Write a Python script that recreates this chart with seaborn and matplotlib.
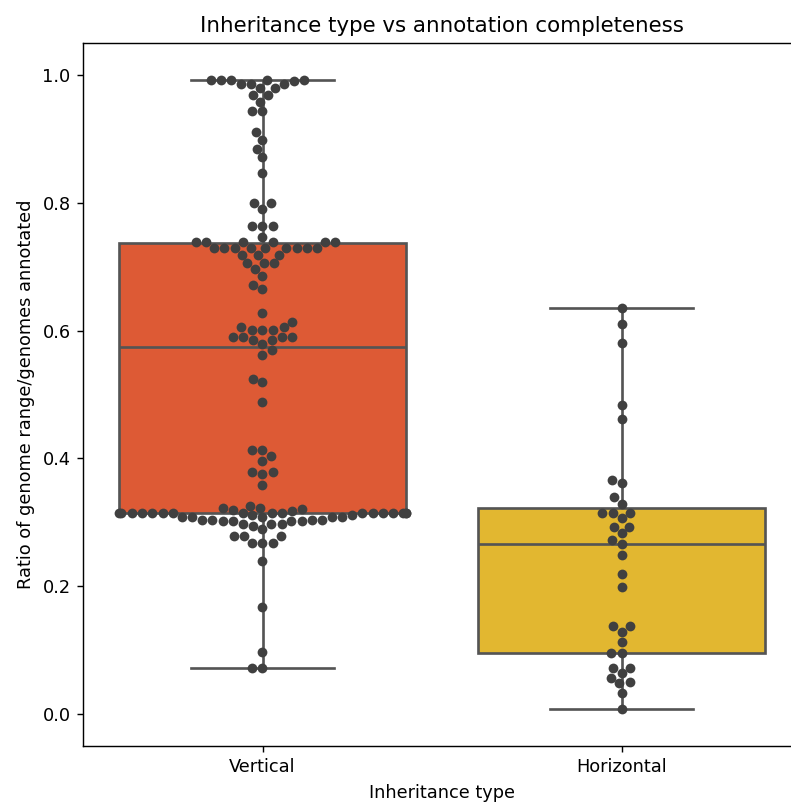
import matplotlib
matplotlib.use("Agg")
import numpy as np
import pandas as pd
import matplotlib.pyplot as plt
import seaborn as sns


# Data
categories = ["Vertical", "Horizontal"]

vertical_ratio = [
    0.992, 0.992, 0.992, 0.992, 0.992, 0.990, 0.986, 0.986, 0.986, 0.980,
    0.980, 0.969, 0.969, 0.958, 0.943, 0.943, 0.911, 0.899, 0.884, 0.871,
    0.847, 0.799, 0.799, 0.791, 0.764, 0.764, 0.764, 0.747, 0.739, 0.739,
    0.739, 0.739, 0.739, 0.739,
    0.729, 0.729, 0.729, 0.729, 0.729, 0.729, 0.729, 0.729, 0.729,
    0.718, 0.718, 0.718, 0.705, 0.705, 0.705, 0.696, 0.685, 0.671, 0.665,
    0.627, 0.614, 0.605, 0.605, 0.601, 0.601, 0.601, 0.590, 0.590, 0.590,
    0.590, 0.585, 0.585, 0.579,
    0.569, 0.562, 0.524, 0.520, 0.489, 0.413, 0.413, 0.404, 0.396, 0.379,
    0.379, 0.376, 0.359,
    0.326, 0.323, 0.323, 0.321, 0.320, 0.318,
    0.315, 0.315, 0.315, 0.315, 0.315, 0.315, 0.315, 0.315, 0.315, 0.315,
    0.315, 0.315, 0.315, 0.315, 0.315, 0.315, 0.315,
    0.311, 0.311, 0.308, 0.308, 0.308, 0.308, 0.308,
    0.304, 0.304, 0.304, 0.304, 0.3025, 0.3025, 0.3025, 0.3025,
    0.298, 0.298, 0.298, 0.294, 0.290, 0.278, 0.278, 0.278, 0.268, 0.268,
    0.268, 0.240, 0.168, 0.097, 0.0715, 0.0715,
]

horizontal_ratio = [
    0.635, 0.610, 0.580, 0.484, 0.462, 0.366, 0.362, 0.340, 0.329, 0.315,
    0.315, 0.315, 0.307, 0.293, 0.293, 0.283, 0.273, 0.266, 0.249, 0.219,
    0.199, 0.137, 0.137, 0.129, 0.113, 0.096, 0.096, 0.0725, 0.0725, 0.064,
    0.057, 0.0506, 0.048, 0.033, 0.0078,
]

box_colors = ["#DD5A35", "#E2B730"]

df = pd.DataFrame({
    "Inheritance type": ["Vertical"] * len(vertical_ratio)
    + ["Horizontal"] * len(horizontal_ratio),
    "ratio": vertical_ratio + horizontal_ratio,
})


# Plot
fig = plt.figure(figsize=(791 / 128, 803 / 128), dpi=128)
ax = fig.add_axes([83 / 791, 57 / 803, 718 / 791, 703 / 803])

sns.boxplot(
    data=df, x="Inheritance type", y="ratio",
    order=categories, hue="Inheritance type", hue_order=categories,
    palette=box_colors, saturation=1, legend=False,
    linewidth=1.5, linecolor="#545454", fliersize=0, ax=ax,
)
sns.swarmplot(
    data=df, x="Inheritance type", y="ratio",
    order=categories, color=".25", size=5.5, ax=ax,
)

ax.set_xlim(-0.5, 1.5)
ax.set_ylim(-0.05, 1.05)
ax.set_title("Inheritance type vs annotation completeness")
ax.set_xlabel("Inheritance type")
ax.set_ylabel("Ratio of genome range/genomes annotated")

fig.savefig("out.png", dpi=128)
